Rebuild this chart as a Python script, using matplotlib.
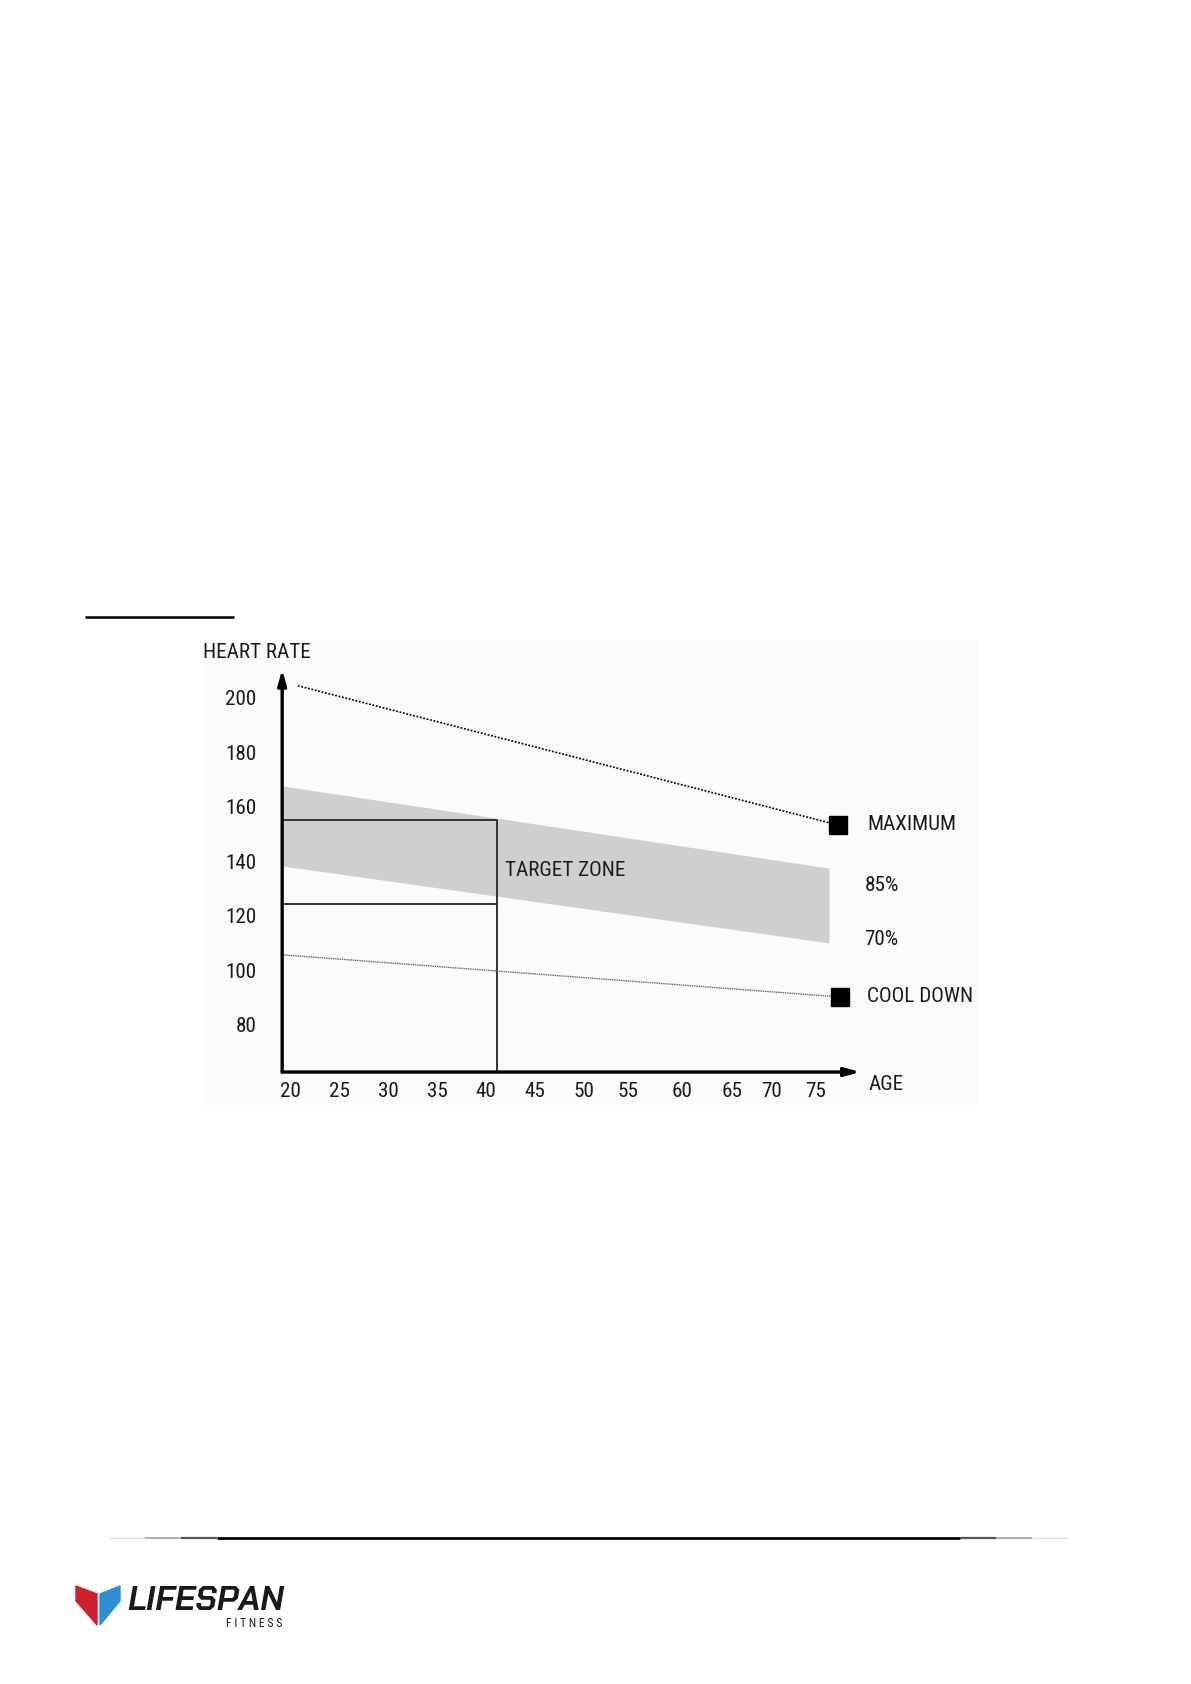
import matplotlib
matplotlib.use('Agg')
import matplotlib.pyplot as plt
from matplotlib.patches import Polygon, Rectangle

W, H = 1191, 1684
FONT = ['Roboto Condensed', 'DejaVu Sans']
LOGO_FONT = ['Chakra Petch', 'DejaVu Sans']

# chart values (age in years, heart rate in bpm)
band_ages = [19.2, 75.0]
band_85 = [168.3, 138.2]
band_70 = [139.0, 110.8]

max_ages = [20.8, 75.9]
max_hr = [205.0, 154.0]

cool_ages = [19.4, 76.1]
cool_hr = [106.4, 91.0]

target_age = 41.1
target_hi = 155.8
target_lo = 125.0

y_ticks = [200, 180, 160, 140, 120, 100, 80]
x_labels = ['20', '25', '30', '35', '40', '45', '50', '55', '60', '65', '70', '75']
x_label_pos = [20, 25, 30, 35, 40, 45, 50, 54.5, 60, 65.1, 69.1, 73.6]

axis_age = 19.2
axis_hr = 63.5

fig = plt.figure(figsize=(W / 100, H / 100), dpi=100)
fig.patch.set_facecolor('white')

# page layer in pixel coordinates
page = fig.add_axes([0, 0, 1, 1])
page.set_xlim(0, W)
page.set_ylim(H, 0)
page.axis('off')

# faint background of the pasted chart image
page.add_patch(Rectangle((204, 640), 773, 464, color='#fbfbfb', zorder=0))
# heading underline
page.plot([85, 234], [617, 617], color='black', lw=1.8, solid_capstyle='butt')

# footer line, fading at both ends
footer = [(109, 145, '#dddddd', 1.0), (145, 181, '#aaaaaa', 1.3), (181, 217, '#555555', 1.6),
          (217, 960, 'black', 2.0), (960, 996, '#555555', 1.6), (996, 1032, '#aaaaaa', 1.3),
          (1032, 1068, '#dddddd', 1.0)]
for x0, x1, c, lw in footer:
    page.plot([x0, x1], [1538, 1538], color=c, lw=lw, solid_capstyle='butt')

# logo
page.add_patch(Polygon([(76, 1586), (97, 1594), (97, 1625), (76, 1601)], closed=True, color='#d0202e'))
page.add_patch(Polygon([(120, 1586), (100, 1594), (100, 1625), (120, 1601)], closed=True, color='#2d8fd6'))
page.text(127, 1610, 'LIFESPAN', fontsize=24.3, fontweight='bold', fontstyle='italic',
          family=LOGO_FONT, color='#1a1a1a', va='baseline', ha='left')
page.text(282, 1627, 'F I T N E S S', fontsize=8.5, family=FONT, color='#1a1a1a',
          va='baseline', ha='right')

# chart axes, placed so data units line up with the picture
px_l, px_r, px_t, px_b = 200, 1000, 630, 1110
ax = fig.add_axes([px_l / W, 1 - px_b / H, (px_r - px_l) / W, (px_b - px_t) / H])
ax.set_xlim(20 + (px_l - 290) / 9.8, 20 + (px_r - 290) / 9.8)
ax.set_ylim(80 - (px_b - 1027) / 2.73, 80 + (1027 - px_t) / 2.73)
ax.axis('off')
ax.patch.set_alpha(0)

# target zone band
ax.fill_between(band_ages, band_70, band_85, color='#cfcfcf', lw=0, zorder=1)

# example rectangle for age 40
ax.plot([axis_age, target_age, target_age], [target_hi, target_hi, axis_hr], color='#333333', lw=1.4, zorder=2)
ax.plot([axis_age, target_age], [target_lo, target_lo], color='#333333', lw=1.4, zorder=2)

# maximum and cool down lines
ax.plot(max_ages, max_hr, color='black', lw=1.2, linestyle=(0, (1.1, 1.0)), zorder=3)
ax.plot(max_ages[-1], max_hr[-1], marker='s', ms=13, color='black', zorder=4)
ax.plot(cool_ages, cool_hr, color='#666666', lw=1.0, linestyle=(0, (1, 0.6)), zorder=3)
ax.plot(cool_ages[-1], cool_hr[-1], marker='s', ms=13, color='black', zorder=4)

# axes with arrows
ax.annotate('', xy=(axis_age, 211), xytext=(axis_age, axis_hr),
            arrowprops=dict(arrowstyle='-|>,head_length=0.9,head_width=0.25', color='black', lw=2.4,
                            shrinkA=0, shrinkB=0), zorder=5)
ax.annotate('', xy=(78.2, axis_hr), xytext=(axis_age, axis_hr),
            arrowprops=dict(arrowstyle='-|>,head_length=0.9,head_width=0.25', color='black', lw=2.4,
                            shrinkA=0, shrinkB=0), zorder=5)

fs = 15.2
tc = '#1a1a1a'
for v in y_ticks:
    ax.text(16.6, v, str(v), ha='right', va='center', fontsize=fs, family=FONT, color=tc)
for lab, p in zip(x_labels, x_label_pos):
    ax.text(p, 56.2, lab, ha='center', va='center', fontsize=fs, family=FONT, color=tc)

ax.text(11.1, 217, 'HEART RATE', ha='left', va='center', fontsize=fs, family=FONT, color=tc)
ax.text(79.0, 59.1, 'AGE', ha='left', va='center', fontsize=fs, family=FONT, color=tc)
ax.text(41.9, 137.5, 'TARGET ZONE', ha='left', va='center', fontsize=fs, family=FONT, color=tc)
ax.text(78.9, 154, 'MAXIMUM', ha='left', va='center', fontsize=fs, family=FONT, color=tc)
ax.text(78.6, 132, '85%', ha='left', va='center', fontsize=fs, family=FONT, color=tc)
ax.text(78.6, 111.9, '70%', ha='left', va='center', fontsize=fs, family=FONT, color=tc)
ax.text(78.9, 91, 'COOL DOWN', ha='left', va='center', fontsize=fs, family=FONT, color=tc)

fig.savefig('out.png', dpi=100)
